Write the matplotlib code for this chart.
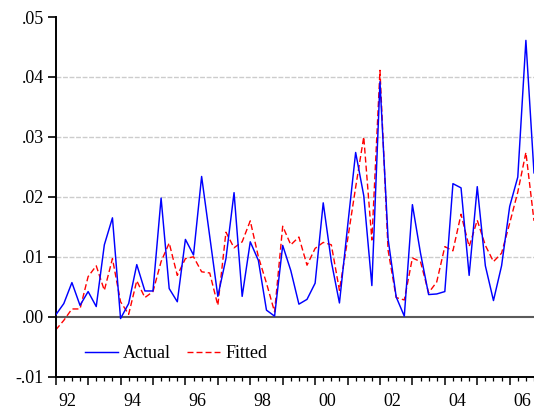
import numpy as np
import matplotlib
matplotlib.use("Agg")
import matplotlib.pyplot as plt

# ----------------------------------------------------------- data (quarterly, 1992Q1 - 2006Q4) ---------------------------------------------

actual = [0.0003, 0.0022, 0.0057, 0.0019, 0.0042, 0.0017, 0.0120, 0.0165,
          -0.0003, 0.0022, 0.0087, 0.0043, 0.0043, 0.0198, 0.0047, 0.0025,
          0.0129, 0.0103, 0.0234, 0.0134, 0.0034, 0.0097, 0.0207, 0.0034,
          0.0125, 0.0094, 0.0011, 0.0001, 0.0119, 0.0077, 0.0021, 0.0029,
          0.0056, 0.0190, 0.0092, 0.0023, 0.0150, 0.0274, 0.0202, 0.0052,
          0.0392, 0.0130, 0.0033, 0.0001, 0.0187, 0.0106, 0.0037, 0.0038,
          0.0042, 0.0222, 0.0215, 0.0069, 0.0217, 0.0085, 0.0027, 0.0085,
          0.0184, 0.0233, 0.0461, 0.0240]

fitted = [-0.0022, -0.0006, 0.0013, 0.0013, 0.0067, 0.0085, 0.0044, 0.0097,
          0.0025, 0.0004, 0.0060, 0.0032, 0.0042, 0.0092, 0.0123, 0.0069,
          0.0097, 0.0100, 0.0075, 0.0073, 0.0019, 0.0141, 0.0115, 0.0125,
          0.0160, 0.0100, 0.0056, 0.0008, 0.0151, 0.0120, 0.0133, 0.0086,
          0.0114, 0.0124, 0.0120, 0.0044, 0.0128, 0.0216, 0.0300, 0.0128,
          0.0411, 0.0111, 0.0032, 0.0028, 0.0098, 0.0092, 0.0040, 0.0058,
          0.0117, 0.0110, 0.0171, 0.0117, 0.0161, 0.0119, 0.0092, 0.0106,
          0.0156, 0.0208, 0.0274, 0.0160]

year_labels = ['92', '94', '96', '98', '00', '02', '04', '06']
y_ticks = [-0.01, 0.00, 0.01, 0.02, 0.03, 0.04, 0.05]
y_labels = ['-.01', '.00', '.01', '.02', '.03', '.04', '.05']

# ----------------------------------------------------------- figure ------------------------------------------------------------------------

plt.rcParams['font.family'] = ['Liberation Serif', 'DejaVu Serif']
plt.rcParams['font.size'] = 13

W, H = 534, 413
fig = plt.figure(figsize=(W / 100, H / 100), dpi=100)
left, bottom, top = 55.7, 376.7, 17
ax = fig.add_axes([left / W, 1 - bottom / H, (W - left) / W, (bottom - top) / H])

x = np.arange(len(actual))

# grid + zero line
for g in [0.01, 0.02, 0.03, 0.04]:
    ax.axhline(g, color='#cccccc', lw=1, ls=(0, (3.5, 1.2)), zorder=1)
ax.axhline(0, color='#5a5a5a', lw=1.5, zorder=1)

ax.plot(x, actual, color='#0000ff', lw=1.05, label='Actual', zorder=3)
ax.plot(x, fitted, color='#ff0000', lw=1.0, dashes=(4.3, 2.2), label='Fitted', zorder=2)

ax.set_xlim(0, (W - left) / 8.125)
ax.set_ylim(-0.01, 0.05)

for s in ['top', 'right']:
    ax.spines[s].set_visible(False)
for s in ['left', 'bottom']:
    ax.spines[s].set_linewidth(1.4)

ax.set_yticks(y_ticks)
ax.set_yticklabels(y_labels)
ax.tick_params(axis='y', direction='out', length=5.5, width=1.2, pad=3)

ax.set_xticks(np.arange(0, 60, 4))
ax.set_xticklabels([])
ax.set_xticks(np.arange(0, 60, 1), minor=True)
ax.tick_params(axis='x', which='major', direction='out', length=5.5, width=1.1)
ax.tick_params(axis='x', which='minor', direction='out', length=3, width=0.9)

for k, lab in enumerate(year_labels):
    ax.annotate(lab, xy=(8 * k + 1.5, 0), xycoords=('data', 'axes fraction'),
                xytext=(0, -17.5), textcoords='offset points',
                ha='center', va='center', annotation_clip=False)

ax.legend(loc='center left', bbox_to_anchor=(85 / W, 1 - 354 / H), bbox_transform=fig.transFigure,
          ncol=2, frameon=False, borderpad=0, borderaxespad=0, handlelength=1.8,
          handletextpad=0.3, columnspacing=0.9)

fig.savefig('out.png', dpi=100)
